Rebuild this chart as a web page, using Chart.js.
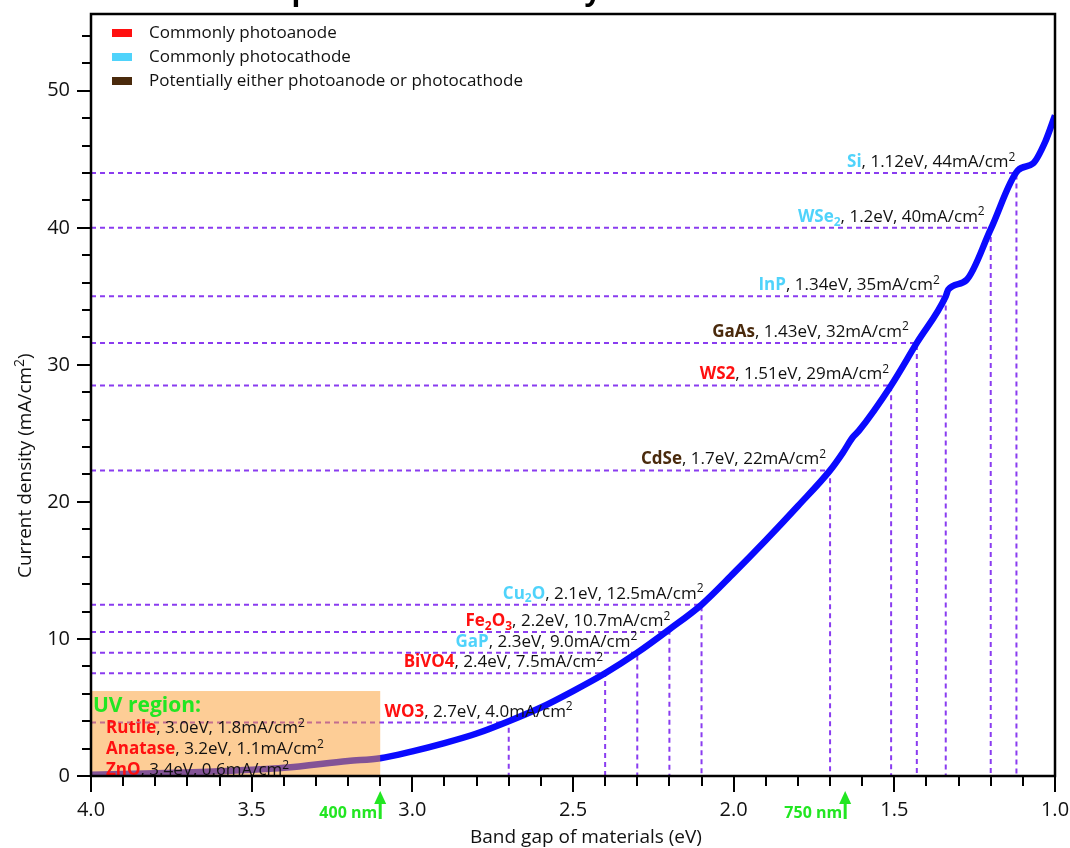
<!DOCTYPE html>
<html>
<head>
<meta charset="utf-8">
<script src="https://cdn.jsdelivr.net/npm/chart.js@4.4.1/dist/chart.umd.min.js"></script>
<style>
  html, body { margin: 0; padding: 0; background: #fff; }
  #wrap { width: 1070px; height: 848px; }
</style>
</head>
<body>
<div id="wrap"><canvas id="chart" width="1070" height="848"></canvas></div>
<script>
// band gap (eV) vs max current density (mA/cm2)
const curveEv = [4.0, 3.8, 3.6, 3.4, 3.2, 3.1, 3.0, 2.9, 2.8, 2.7, 2.6, 2.5, 2.4, 2.3, 2.2, 2.1,
                 2.0, 1.9, 1.8, 1.7, 1.66, 1.63, 1.61, 1.51, 1.43, 1.34, 1.332, 1.275, 1.2, 1.115, 1.068, 1.03, 1.0];
const curveJ  = [0.1, 0.2, 0.35, 0.6, 1.1, 1.3, 1.8, 2.4, 3.1, 4.0, 5.0, 6.2, 7.5, 9.0, 10.7, 12.5,
                 14.8, 17.2, 19.7, 22.3, 23.6, 24.7, 25.2, 28.5, 31.6, 35.0, 35.5, 36.2, 39.9, 44.2, 44.7, 46.3, 48.2];

// materials with guide lines
const matNames = ['Si', 'WSe_2', 'InP', 'GaAs', 'WS2', 'CdSe', 'Cu_2O', 'Fe_2O_3', 'GaP', 'BiVO4', 'WO3'];
const matType  = ['cathode', 'cathode', 'cathode', 'either', 'anode', 'either', 'cathode', 'anode', 'cathode', 'anode', 'anode'];
const matEv    = [1.12, 1.2, 1.34, 1.43, 1.51, 1.7, 2.1, 2.2, 2.3, 2.4, 2.7];
const matJ     = [44, 40, 35, 31.6, 28.5, 22.3, 12.5, 10.5, 9.0, 7.5, 3.9];
const matText  = [', 1.12eV, 44mA/cm^2', ', 1.2eV, 40mA/cm^2', ', 1.34eV, 35mA/cm^2', ', 1.43eV, 32mA/cm^2',
                  ', 1.51eV, 29mA/cm^2', ', 1.7eV, 22mA/cm^2', ', 2.1eV, 12.5mA/cm^2', ', 2.2eV, 10.7mA/cm^2',
                  ', 2.3eV, 9.0mA/cm^2', ', 2.4eV, 7.5mA/cm^2', ', 2.7eV, 4.0mA/cm^2'];

// UV region materials (listed inside the box)
const uvNames = ['Rutile', 'Anatase', 'ZnO'];
const uvText  = [', 3.0eV, 1.8mA/cm^2', ', 3.2eV, 1.1mA/cm^2', ', 3.4eV, 0.6mA/cm^2'];
const uvBox   = { evFrom: 4.0, evTo: 3.1, jTo: 6.2 };

const wavelengthMarks = [{ label: '400 nm', ev: 3.1 }, { label: '750 nm', ev: 1.653 }];

const legendLabels = ['Commonly photoanode', 'Commonly photocathode', 'Potentially either photoanode or photocathode'];
const legendTypes  = ['anode', 'cathode', 'either'];

const typeColor = { anode: '#ff1010', cathode: '#4fd3fb', either: '#4a2a0c' };
const GREEN = '#22e622';
const GUIDE = '#8a3cf0';
const FONT = '"Open Sans", "Noto Sans", sans-serif';

// small nudges for label placement (px from the guide corner)
const labelNudge = [-1, -6, -6, -8, -2, -4, 2, 1, 0, -2, 64];

function parseRich(str, base) {
    const parts = [];
    let buf = '';
    for (let i = 0; i < str.length; i++) {
        const c = str[i];
        if ((c === '_' || c === '^') && i + 1 < str.length) {
            if (buf) { parts.push({ t: buf, ...base }); buf = ''; }
            parts.push({ t: str[i + 1], ...base, mode: c === '_' ? 'sub' : 'sup' });
            i++;
        } else {
            buf += c;
        }
    }
    if (buf) parts.push({ t: buf, ...base });
    return parts;
}

function partFont(p, size) {
    const s = p.mode ? Math.round(size * 0.72) : size;
    return (p.bold ? 'bold ' : '') + s + 'px ' + FONT;
}

function drawRich(ctx, parts, x, y, size, align) {
    let w = 0;
    for (const p of parts) {
        ctx.font = partFont(p, size);
        p.w = ctx.measureText(p.t).width;
        w += p.w;
    }
    let cx = align === 'right' ? x - w : x;
    ctx.textAlign = 'left';
    ctx.textBaseline = 'alphabetic';
    for (const p of parts) {
        ctx.font = partFont(p, size);
        ctx.fillStyle = p.color;
        let dy = 0;
        if (p.mode === 'sub') dy = size * 0.22;
        if (p.mode === 'sup') dy = -size * 0.38;
        ctx.fillText(p.t, cx, y + dy);
        cx += p.w;
    }
}

const overlay = {
    id: 'overlay',
    afterDatasetsDraw(chart) {
        const { ctx, chartArea: a, scales: { x, y } } = chart;
        ctx.save();

        // UV region box on top of curve
        const bx0 = x.getPixelForValue(uvBox.evFrom), bx1 = x.getPixelForValue(uvBox.evTo);
        const by0 = y.getPixelForValue(0), by1 = y.getPixelForValue(uvBox.jTo);
        ctx.fillStyle = 'rgba(252, 155, 45, 0.5)';
        ctx.fillRect(bx0, by1, bx1 - bx0, by0 - by1);

        // material labels
        matNames.forEach((n, i) => {
            const parts = parseRich(n, { bold: true, color: typeColor[matType[i]] })
                .concat(parseRich(matText[i], { bold: false, color: '#111' }));
            const px = x.getPixelForValue(matEv[i]) + labelNudge[i];
            const py = y.getPixelForValue(matJ[i]) - 6;
            drawRich(ctx, parts, px, py, 17, 'right');
        });

        // UV region text
        ctx.font = 'bold 21px ' + FONT;
        ctx.fillStyle = GREEN;
        ctx.textAlign = 'left';
        ctx.fillText('UV region:', bx0 + 2, by1 + 21);
        uvNames.forEach((n, i) => {
            const parts = parseRich(n, { bold: true, color: typeColor.anode })
                .concat(parseRich(uvText[i], { bold: false, color: '#111' }));
            drawRich(ctx, parts, bx0 + 15, by1 + 42 + i * 21, 17, 'left');
        });

        // legend
        legendLabels.forEach((l, i) => {
            const ly = a.top + 19 + i * 24;
            ctx.fillStyle = typeColor[legendTypes[i]];
            ctx.fillRect(a.left + 21, ly - 4, 20, 8);
            ctx.fillStyle = '#111';
            ctx.font = '17px ' + FONT;
            ctx.textBaseline = 'middle';
            ctx.fillText(l, a.left + 58, ly);
        });

        // frame and ticks
        ctx.strokeStyle = '#000';
        ctx.lineWidth = 2.5;
        ctx.strokeRect(a.left, a.top, a.right - a.left, a.bottom - a.top);
        ctx.lineWidth = 2;
        ctx.beginPath();
        for (let k = 0; k <= 30; k++) {
            const v = 1 + k * 0.1;
            const px = Math.round(x.getPixelForValue(v));
            const len = k % 5 === 0 ? 16 : 10;
            ctx.moveTo(px, a.bottom);
            ctx.lineTo(px, a.bottom + len);
        }
        for (let v = 0; v <= 54; v += 2) {
            const py = Math.round(y.getPixelForValue(v));
            const len = v % 10 === 0 ? 14 : 9;
            ctx.moveTo(a.left, py);
            ctx.lineTo(a.left - len, py);
        }
        ctx.stroke();

        // wavelength arrows
        wavelengthMarks.forEach(m => {
            const px = x.getPixelForValue(m.ev);
            ctx.strokeStyle = GREEN;
            ctx.fillStyle = GREEN;
            ctx.lineWidth = 3;
            ctx.beginPath();
            ctx.moveTo(px, a.bottom + 26);
            ctx.lineTo(px, a.bottom + 43);
            ctx.stroke();
            ctx.beginPath();
            ctx.moveTo(px, a.bottom + 15);
            ctx.lineTo(px - 6, a.bottom + 28);
            ctx.lineTo(px + 6, a.bottom + 28);
            ctx.closePath();
            ctx.fill();
            ctx.font = 'bold 16px ' + FONT;
            ctx.textAlign = 'right';
            ctx.textBaseline = 'alphabetic';
            ctx.fillText(m.label, px - 3, a.bottom + 42);
        });

        // axis titles
        ctx.fillStyle = '#111';
        ctx.font = '19px ' + FONT;
        ctx.textAlign = 'center';
        ctx.textBaseline = 'alphabetic';
        ctx.fillText('Band gap of materials (eV)', 586, 843);
        ctx.save();
        ctx.translate(31, 456);
        ctx.rotate(-Math.PI / 2);
        drawRich(ctx, parseRich('Current density (mA/cm^2)', { bold: false, color: '#111' }), -122, 0, 19, 'left');
        ctx.restore();

        // title, mostly cut off at the top edge
        ctx.fillStyle = '#000';
        ctx.font = 'bold 29px ' + FONT;
        ctx.textAlign = 'left';
        ctx.fillText('Theoretical photocurrent density', 120, 0);

        ctx.restore();
    }
};

const guideSets = matNames.map((n, i) => ({
    data: [{ x: 4.0, y: matJ[i] }, { x: matEv[i], y: matJ[i] }, { x: matEv[i], y: 0 }],
    borderColor: GUIDE,
    borderWidth: 2,
    borderDash: [5, 4],
    pointRadius: 0,
    tension: 0,
    fill: false
}));

new Chart(document.getElementById('chart'), {
    type: 'line',
    data: {
        datasets: [{
            data: curveEv.map((e, i) => ({ x: e, y: curveJ[i] })),
            borderColor: '#0a0aff',
            borderWidth: 6.5,
            pointRadius: 0,
            cubicInterpolationMode: 'monotone',
            fill: false
        }, ...guideSets]
    },
    options: {
        responsive: false,
        animation: false,
        devicePixelRatio: 1,
        layout: { padding: { top: 14, right: 15, left: 0, bottom: 0 } },
        plugins: { legend: { display: false }, tooltip: { enabled: false } },
        scales: {
            x: {
                type: 'linear',
                reverse: true,
                min: 1,
                max: 4,
                grid: { display: false },
                border: { display: false },
                ticks: {
                    stepSize: 0.5,
                    maxRotation: 0,
                    padding: 14,
                    color: '#111',
                    font: { family: FONT, size: 20 },
                    callback: v => v.toFixed(1)
                },
                afterFit: s => { s.height = 72; s.paddingLeft = 0; s.paddingRight = 0; }
            },
            y: {
                min: 0,
                max: 55.6,
                grid: { display: false },
                border: { display: false },
                ticks: {
                    stepSize: 10,
                    padding: 13,
                    color: '#111',
                    font: { family: FONT, size: 20 },
                    callback: v => (v % 10 === 0 ? v : '')
                },
                afterFit: s => { s.width = 91; s.paddingTop = 0; s.paddingBottom = 0; }
            }
        }
    },
    plugins: [overlay]
});
</script>
</body>
</html>
